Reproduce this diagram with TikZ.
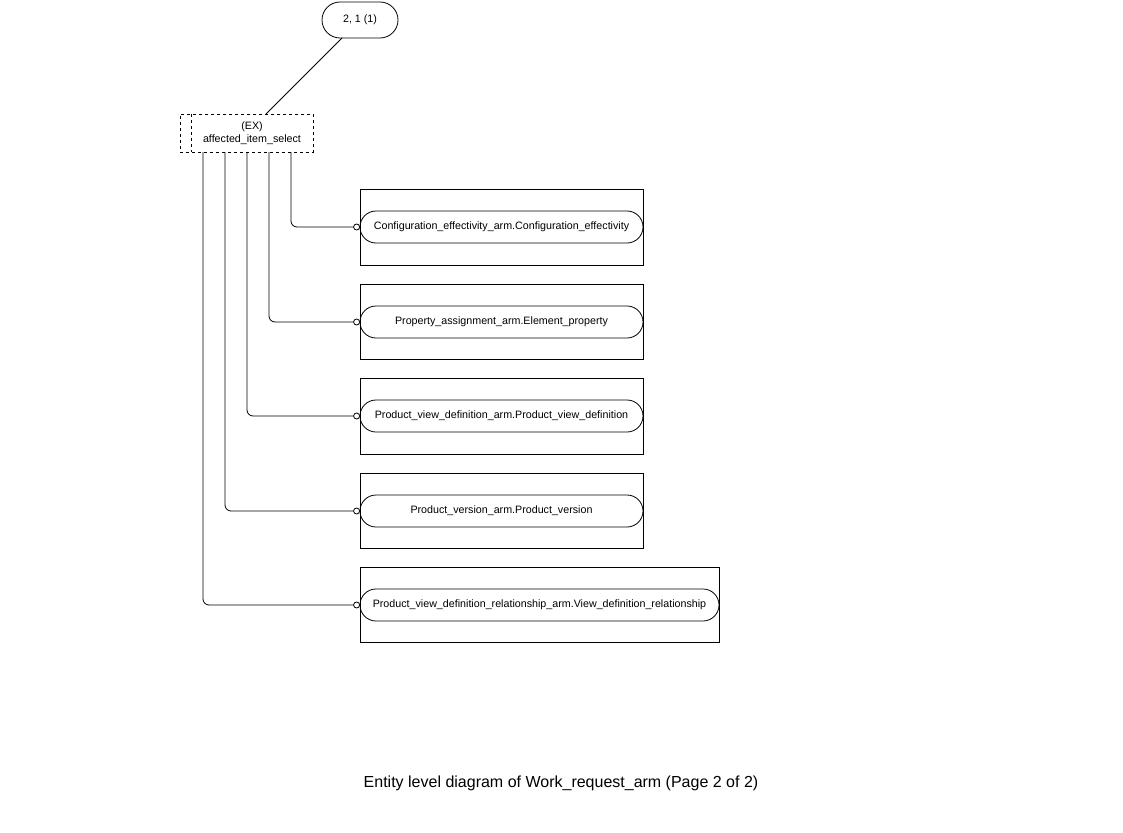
\documentclass[tikz,border=0pt]{standalone}
\usepackage{fontspec}
\setmainfont{Liberation Sans}
\usetikzlibrary{shapes.misc}
\begin{document}
\begin{tikzpicture}[x=1pt,y=-1pt,line width=0.8pt,
  lbl/.style={font=\fontsize{10.7}{12.5}\selectfont},
  stad/.style={draw,rounded rectangle,inner sep=0pt,lbl},
  frame/.style={draw,inner sep=0pt},
  conn/.style={draw,rounded corners=6pt},
  ring/.style={draw,fill=white,circle,inner sep=0pt,minimum size=6pt}]
\useasboundingbox (0,0) rectangle (1123,832);
% top page reference
\node[draw,rounded rectangle,minimum width=76pt,minimum height=36pt,inner sep=0pt,lbl] (ref) at (360,20) {2, 1 (1)};
% select box
\node[draw,dashed,minimum width=133pt,minimum height=38pt,inner sep=0pt] (sel) at (246.5,133) {};
\draw[dashed] (191,114) -- (191,152);
\node[align=center,lbl] (seltxt) at (252,133) {(EX)\\affected\_item\_select};
\coordinate (rs) at (342,38);
\draw (rs) -- (266,114);
% entity frames
\node[frame,minimum width=283pt,minimum height=76pt] (f1) at (501.5,227) {};
\node[frame,minimum width=283pt,minimum height=75pt] (f2) at (501.5,321.5) {};
\node[frame,minimum width=283pt,minimum height=76pt] (f3) at (501.5,416) {};
\node[frame,minimum width=283pt,minimum height=75pt] (f4) at (501.5,510.5) {};
\node[frame,minimum width=359pt,minimum height=75pt] (f5) at (539.5,604.5) {};
\node[stad,minimum width=283pt,minimum height=32pt] (e1) at (501.5,227) {Configuration\_effectivity\_arm.Configuration\_effectivity};
\node[stad,minimum width=283pt,minimum height=32pt] (e2) at (501.5,322) {Property\_assignment\_arm.Element\_property};
\node[stad,minimum width=283pt,minimum height=32pt] (e3) at (501.5,416) {Product\_view\_definition\_arm.Product\_view\_definition};
\node[stad,minimum width=283pt,minimum height=32pt] (e4) at (501.5,511) {Product\_version\_arm.Product\_version};
\node[stad,minimum width=359pt,minimum height=32pt] (e5) at (539.5,605) {Product\_view\_definition\_relationship\_arm.View\_definition\_relationship};
% connectors
\foreach \e/\x in {e1/291,e2/269,e3/247,e4/225,e5/203}{
  \draw[conn] (\x,152) |- ([xshift=-6pt]\e.west);
  \node[ring] at ([xshift=-3pt]\e.west) {};
}
\node[font=\fontsize{16}{19}\selectfont] (cap) at (561,783) {Entity level diagram of Work\_request\_arm (Page 2 of 2)};
\end{tikzpicture}
\end{document}
